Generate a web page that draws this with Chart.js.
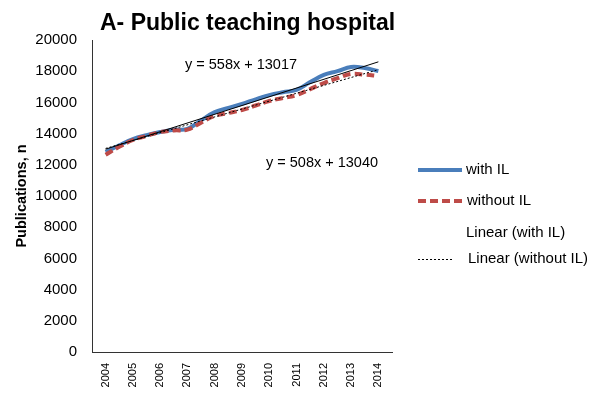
<!DOCTYPE html>
<html>
<head>
<meta charset="utf-8">
<title>A- Public teaching hospital</title>
<script src="https://cdn.jsdelivr.net/npm/chart.js"></script>
<style>
  html, body { margin: 0; padding: 0; background: #fff; }
  #wrap { width: 594px; height: 403px; }
</style>
</head>
<body>
<div id="wrap"><canvas id="pubChart" width="594" height="403"></canvas></div>
<script>
// year ticks on the x axis
const years = [2004, 2005, 2006, 2007, 2008, 2009, 2010, 2011, 2012, 2013, 2014];

// half-year sampling
const periods = [2004, 2004.5, 2005, 2005.5, 2006, 2006.5, 2007, 2007.5, 2008, 2008.5,
                 2009, 2009.5, 2010, 2010.5, 2011, 2011.5, 2012, 2012.5, 2013, 2013.5, 2014];
const withIL = [12820, 13250, 13650, 13900, 14100, 14250, 14300, 14850, 15380, 15650,
                15900, 16200, 16470, 16650, 16800, 17300, 17760, 18000, 18270, 18200, 18010];
const withoutIL = [12650, 13150, 13590, 13850, 14100, 14200, 14250, 14700, 15130, 15320,
                   15510, 15800, 16090, 16280, 16470, 16850, 17240, 17550, 17820, 17780, 17690];

// linear trend end points
const trendYears = [2004, 2014];
const trendWith = [13000, 18600];
const trendWithout = [13050, 18100];

const eqWith = "y = 558x + 13017";
const eqWithout = "y = 508x + 13040";

const BLUE = "#4a7ebb";
const RED = "#be4b48";

function pts(xs, ys) {
	return xs.map((x, i) => ({ x: x, y: ys[i] }));
}

const extras = {
	id: "extras",
	afterDraw(chart) {
		const ctx = chart.ctx;
		ctx.save();
		ctx.fillStyle = "#000";
		ctx.textBaseline = "alphabetic";
		ctx.textAlign = "left";
		ctx.font = "bold 23px 'Liberation Sans', Arial, sans-serif";
		ctx.fillText("A- Public teaching hospital", 100, 30);

		ctx.textBaseline = "middle";
		ctx.font = "14.5px 'Liberation Sans', Arial, sans-serif";
		ctx.fillText(eqWith, 185, 65);
		ctx.fillText(eqWithout, 266, 163);

		// legend
		ctx.font = "15px 'Liberation Sans', Arial, sans-serif";
		ctx.lineCap = "butt";
		ctx.strokeStyle = BLUE;
		ctx.lineWidth = 4;
		ctx.setLineDash([]);
		ctx.beginPath(); ctx.moveTo(418, 170); ctx.lineTo(462, 170); ctx.stroke();
		ctx.fillText("with IL", 466, 170);

		ctx.strokeStyle = RED;
		ctx.setLineDash([8, 4]);
		ctx.beginPath(); ctx.moveTo(418, 201); ctx.lineTo(462, 201); ctx.stroke();
		ctx.fillText("without IL", 467, 201);

		ctx.fillText("Linear (with IL)", 466, 233);

		ctx.strokeStyle = "#000";
		ctx.lineWidth = 1;
		ctx.setLineDash([2, 2]);
		ctx.beginPath(); ctx.moveTo(418, 259.5); ctx.lineTo(453, 259.5); ctx.stroke();
		ctx.fillText("Linear (without IL)", 468, 259);
		ctx.restore();
	}
};

const ctx = document.getElementById("pubChart").getContext("2d");
new Chart(ctx, {
	type: "line",
	data: {
		datasets: [{
			label: "Linear (with IL)",
			data: pts(trendYears, trendWith),
			borderColor: "#000",
			borderWidth: 1,
			pointRadius: 0
		}, {
			label: "Linear (without IL)",
			data: pts(trendYears, trendWithout),
			borderColor: "#000",
			borderWidth: 1,
			borderDash: [2, 2],
			pointRadius: 0
		}, {
			label: "without IL",
			data: pts(periods, withoutIL),
			borderColor: RED,
			borderWidth: 4,
			borderDash: [8, 4],
			pointRadius: 0,
			tension: 0.4
		}, {
			label: "with IL",
			data: pts(periods, withIL),
			borderColor: BLUE,
			borderWidth: 4,
			pointRadius: 0,
			tension: 0.4
		}]
	},
	options: {
		responsive: false,
		animation: false,
		layout: { padding: { top: 40, right: 202, left: 0, bottom: 0 } },
		plugins: {
			legend: { display: false },
			tooltip: { enabled: false }
		},
		scales: {
			x: {
				type: "linear",
				min: 2003.5,
				max: 2014.5,
				afterBuildTicks: (s) => { s.ticks = years.map((v) => ({ value: v })); },
				afterFit: (s) => { s.height = 51; },
				grid: { display: false, drawTicks: false },
				border: { display: true, color: "#333", width: 1 },
				ticks: {
					color: "#000",
					font: { family: "'Liberation Sans', Arial, sans-serif", size: 11 },
					minRotation: 90,
					maxRotation: 90,
					padding: 11,
					autoSkip: false,
					callback: (v) => String(v)
				}
			},
			y: {
				min: 0,
				max: 20000,
				afterFit: (s) => { s.width = 92; },
				grid: { display: false, drawTicks: false },
				border: { display: true, color: "#333", width: 1 },
				ticks: {
					stepSize: 2000,
					color: "#000",
					font: { family: "'Liberation Sans', Arial, sans-serif", size: 15 },
					padding: 15,
					callback: (v) => String(v)
				},
				title: {
					display: true,
					text: "Publications, n",
					color: "#000",
					font: { family: "'Liberation Sans', Arial, sans-serif", size: 14.5, weight: "bold" },
					padding: { top: 13, bottom: 0 }
				}
			}
		}
	},
	plugins: [extras]
});
</script>
</body>
</html>
